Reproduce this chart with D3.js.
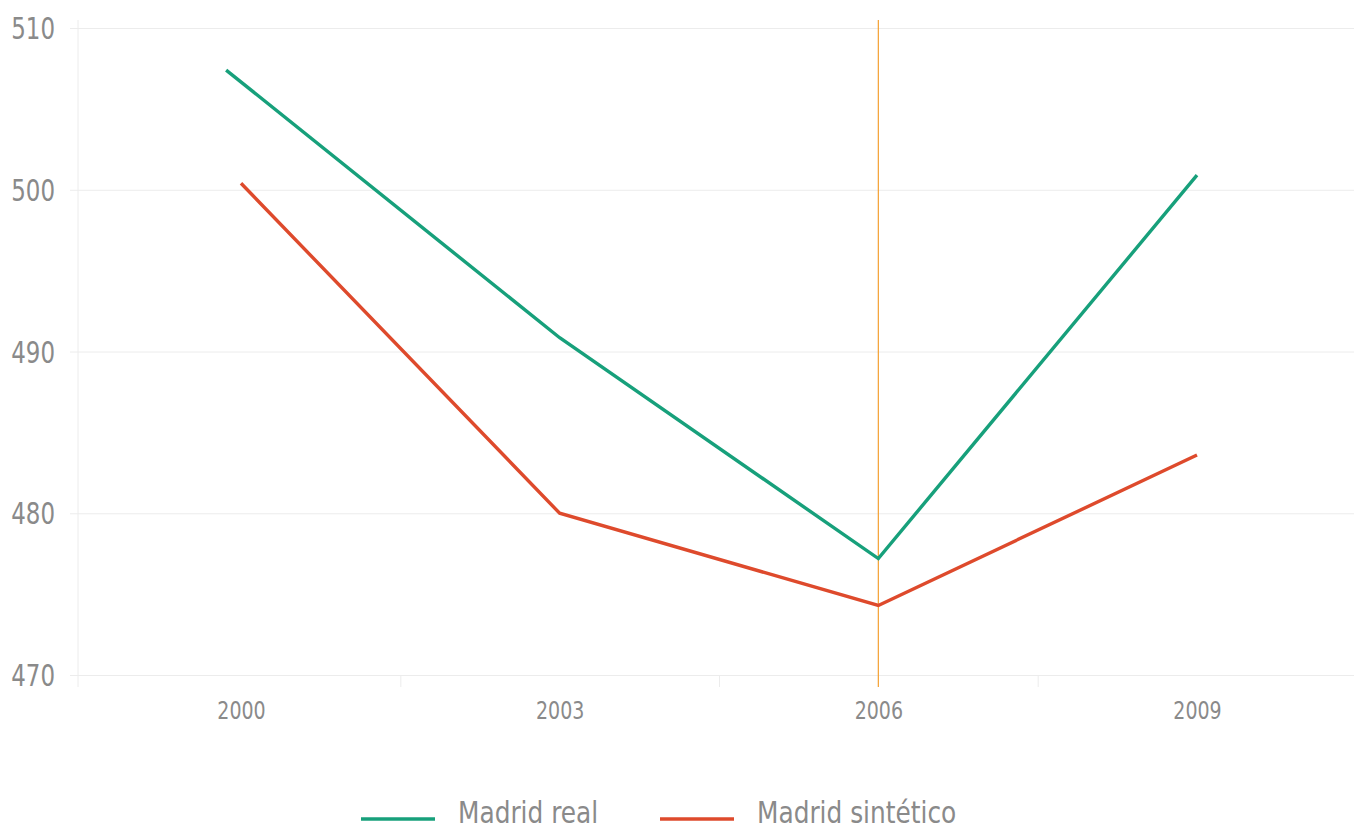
<!DOCTYPE html>
<html>
<head>
<meta charset="utf-8">
<script src="https://cdn.jsdelivr.net/npm/d3@7"></script>
<style>
  html, body { margin:0; padding:0; background:#fff; }
  svg text { font-family:"Liberation Sans Narrow","DejaVu Sans Condensed","Roboto",sans-serif; fill:#8a8a8a; }
</style>
</head>
<body>
<svg id="chart" width="1354" height="832"></svg>
<script>
var seriesNames = ['Madrid real', 'Madrid sintético'];
var seriesColors = ['#17a07b', '#de4a2c'];
var realYears = [1999.86, 2003, 2006, 2009];
var realValues = [507.4, 490.85, 477.2, 500.9];
var synthYears = [2000, 2003, 2006, 2009];
var synthValues = [500.4, 480.0, 474.3, 483.6];
var yTicks = [470, 480, 490, 500, 510];
var xTicks = [2000, 2003, 2006, 2009];
var xMinorTicks = [2001.5, 2004.5, 2007.5];
var treatmentYear = 2006;

(function(){
  var svg = d3.select('#chart');
  var left = 78, right = 1354, top = 20, bottom = 687;

  var x = d3.scaleLinear().domain([2000, 2009]).range([241, 1197]);
  var y = d3.scaleLinear().domain([470, 510]).range([675, 28]);

  // squeeze text horizontally to look like a condensed face
  function condense(sel, f){
    sel.each(function(){
      var w = this.getComputedTextLength();
      d3.select(this).attr('textLength', w * f).attr('lengthAdjust', 'spacingAndGlyphs');
    });
  }

  // grid + y labels
  var gy = svg.append('g').attr('transform', 'translate(70,0)')
    .call(d3.axisLeft(y).tickValues(yTicks).tickSizeInner(-(right - 70)).tickSizeOuter(0).tickPadding(15));
  gy.select('.domain').remove();
  gy.selectAll('line').attr('stroke', '#ececec').attr('stroke-width', 1);
  gy.selectAll('text').attr('font-size', 30).attr('fill', '#8a8a8a').attr('dy', '0.35em');
  condense(gy.selectAll('text'), 0.85);

  // left axis line
  svg.append('line')
    .attr('x1', left).attr('x2', left).attr('y1', top).attr('y2', bottom)
    .attr('stroke', '#ececec').attr('stroke-width', 1);

  // minor x ticks
  var gxm = svg.append('g').attr('transform', 'translate(0,675)')
    .call(d3.axisBottom(x).tickValues(xMinorTicks).tickSize(12).tickFormat(''));
  gxm.select('.domain').remove();
  gxm.selectAll('line').attr('stroke', '#ececec');

  // x labels
  var gx = svg.append('g').attr('transform', 'translate(0,675)')
    .call(d3.axisBottom(x).tickValues(xTicks).tickSize(0).tickPadding(27).tickFormat(d3.format('d')));
  gx.select('.domain').remove();
  gx.selectAll('text').attr('font-size', 24).attr('fill', '#8a8a8a');
  condense(gx.selectAll('text'), 0.88);

  // treatment line
  svg.append('line')
    .attr('x1', x(treatmentYear)).attr('x2', x(treatmentYear))
    .attr('y1', top).attr('y2', bottom)
    .attr('stroke', '#f5a030').attr('stroke-width', 1.2);

  var line = d3.line().x(function(d){ return x(d[0]); }).y(function(d){ return y(d[1]); });
  var series = [
    d3.zip(realYears, realValues),
    d3.zip(synthYears, synthValues)
  ];
  series.forEach(function(s, i){
    svg.append('path')
      .datum(s)
      .attr('d', line)
      .attr('fill', 'none')
      .attr('stroke', seriesColors[i])
      .attr('stroke-width', 3.4)
      .attr('stroke-linejoin', 'miter');
  });

  // legend
  var legendX = [361, 660];
  seriesNames.forEach(function(name, i){
    var g = svg.append('g').attr('transform', 'translate(' + legendX[i] + ',819)');
    g.append('line').attr('x1', 0).attr('x2', 74).attr('y1', 0).attr('y2', 0)
      .attr('stroke', seriesColors[i]).attr('stroke-width', 3.4);
    var t = g.append('text').attr('x', 97).attr('y', 4).attr('font-size', 30).attr('fill', '#8a8a8a').text(name);
    condense(t, 0.92);
  });
})();
</script>
</body>
</html>
